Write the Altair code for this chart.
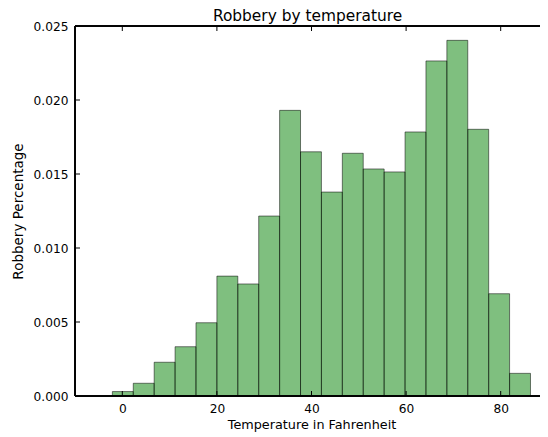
import altair as alt
import pandas as pd

# Histogram bin edges (Fahrenheit) and heights (fraction of robberies)
bin_start = [-2.1, 2.32, 6.74, 11.16, 15.58, 20.0, 24.42, 28.84, 33.26, 37.68,
             42.1, 46.52, 50.94, 55.36, 59.78, 64.2, 68.62, 73.04, 77.46, 81.88]
bin_end = [2.32, 6.74, 11.16, 15.58, 20.0, 24.42, 28.84, 33.26, 37.68, 42.1,
           46.52, 50.94, 55.36, 59.78, 64.2, 68.62, 73.04, 77.46, 81.88, 86.3]
share = [0.0003, 0.00086, 0.00228, 0.00333, 0.00495, 0.0081, 0.00757, 0.01216, 0.0193, 0.0165,
         0.01378, 0.0164, 0.01534, 0.01514, 0.01784, 0.02264, 0.02403, 0.01802, 0.00691, 0.00153]

x_ticks = [0, 20, 40, 60, 80]
y_ticks = [0.0, 0.005, 0.010, 0.015, 0.020, 0.025]

W, H = 465, 370      # visible plot box (page is 532px wide inside margins)
XR = 473             # the axes run on slightly past the page edge
FONT = "DejaVu Sans"

df = pd.DataFrame({"start": bin_start, "end": bin_end, "share": share})
xt = pd.DataFrame({"t": x_ticks})
yt = pd.DataFrame({"t": y_ticks})

xscale = alt.Scale(domain=[-10, 90], range=[0, XR], nice=False, zero=False)
yscale = alt.Scale(domain=[0, 0.025], nice=False, zero=False)

xaxis = alt.Axis(values=x_ticks, title="Temperature in Fahrenheit", format="d",
                 ticks=False, domain=False, grid=False, labelPadding=6, titlePadding=4,
                 labelFont=FONT, labelFontSize=12.2, labelColor="black",
                 titleFont=FONT, titleFontSize=12.8, titleColor="black", titleFontWeight="normal")
yaxis = alt.Axis(values=y_ticks, title="Robbery Percentage", format=".3f",
                 ticks=False, domain=False, grid=False, labelPadding=7, titlePadding=8,
                 labelFont=FONT, labelFontSize=12.2, labelColor="black",
                 titleFont=FONT, titleFontSize=13.5, titleColor="black", titleFontWeight="normal")

bars = alt.Chart(df).mark_rect(
    fill="green", fillOpacity=0.5, stroke="black", strokeOpacity=0.5, strokeWidth=1
).encode(
    x=alt.X("start:Q", scale=xscale, axis=xaxis),
    x2="end:Q",
    y=alt.Y("share:Q", scale=yscale, axis=yaxis),
    y2=alt.datum(0),
)

tick_len = 5
bx = alt.Chart(xt).mark_rule(color="black", strokeWidth=1).encode(
    x=alt.X("t:Q", scale=xscale, axis=xaxis), y=alt.value(H), y2=alt.value(H - tick_len))
tx = alt.Chart(xt).mark_rule(color="black", strokeWidth=1).encode(
    x=alt.X("t:Q", scale=xscale, axis=xaxis), y=alt.value(0), y2=alt.value(tick_len))
ly = alt.Chart(yt).mark_rule(color="black", strokeWidth=1).encode(
    y=alt.Y("t:Q", scale=yscale, axis=yaxis), x=alt.value(0), x2=alt.value(tick_len))
ry = alt.Chart(yt).mark_rule(color="black", strokeWidth=1).encode(
    y=alt.Y("t:Q", scale=yscale, axis=yaxis), x=alt.value(XR), x2=alt.value(XR - tick_len))

# frame (left, top, bottom spines)
left = alt.Chart(yt).mark_rule(color="black", strokeWidth=1).encode(
    x=alt.value(0), y=alt.value(0), y2=alt.value(H))
top = alt.Chart(yt).mark_rule(color="black", strokeWidth=1).encode(
    x=alt.value(0), x2=alt.value(XR), y=alt.value(0))
bottom = alt.Chart(yt).mark_rule(color="black", strokeWidth=1).encode(
    x=alt.value(0), x2=alt.value(XR), y=alt.value(H))

chart = alt.layer(bars, bx, tx, ly, ry, left, top, bottom).properties(
    width=W, height=H,
    title=alt.Title("Robbery by temperature", font=FONT, fontSize=15.4, fontWeight="normal",
                    color="black", offset=5, dy=9, anchor="middle", frame="group"),
    autosize=alt.AutoSizeParams(type="none"),
    padding={"left": 67, "top": 18, "right": 0, "bottom": 38},
    background="white",
).configure_view(
    stroke=None
)

chart.save("out.html", embed_options={"renderer": "svg", "actions": False})
